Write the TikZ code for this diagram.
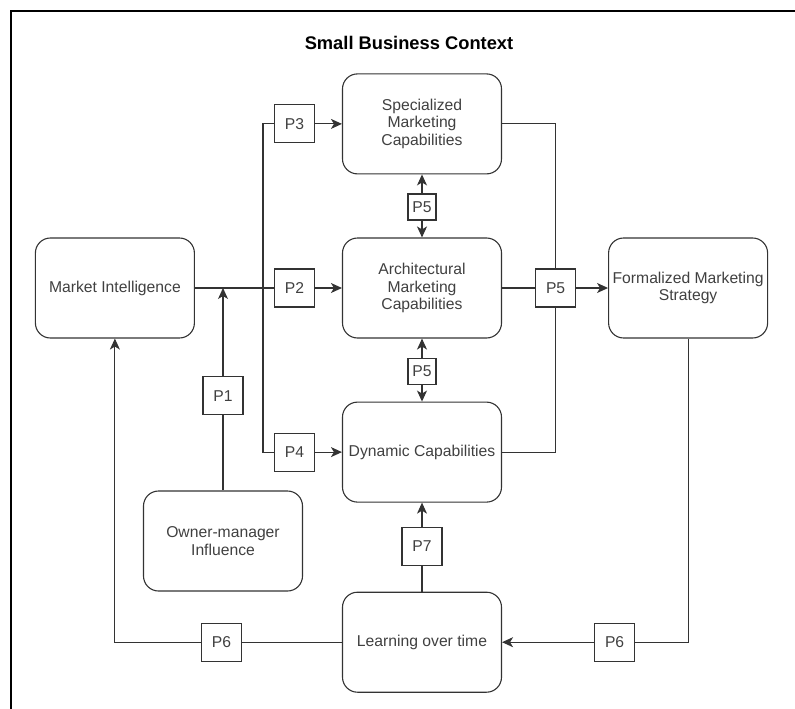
\documentclass[tikz,border=0pt]{standalone}
\usepackage{fontspec}
\setmainfont{Liberation Sans}
\usetikzlibrary{arrows.meta,positioning}
\definecolor{boxline}{rgb}{0.20,0.20,0.20}
\definecolor{labeltext}{rgb}{0.25,0.25,0.25}

\begin{document}
\begin{tikzpicture}[
  x=1pt,y=-1pt,
  every node/.style={font=\fontsize{15.7}{17.6}\selectfont,align=center,text=labeltext},
  arrow/.style={-{Stealth[length=11pt,width=10pt,inset=3pt]},line width=1.1pt,draw=boxline},
  link/.style={line width=1.1pt,draw=boxline},
  blk/.style={rectangle,draw=boxline,line width=1.1pt,rounded corners=15pt,
              minimum width=159pt,minimum height=100pt,inner sep=2pt},
  pbox/.style={rectangle,draw=boxline,line width=1.1pt,
               minimum width=40pt,minimum height=38pt,inner sep=1pt},
  psmall/.style={pbox,minimum width=28pt,minimum height=26pt}
]
\useasboundingbox (0,0) rectangle (795,709);

% context frame
\draw[line width=1.1pt,draw=black] (11,709) |- (795,11);
\node[font=\fontsize{18.3}{22}\selectfont\bfseries,text=black] (title) at (409,43) {Small Business Context};

\node[blk] (arch) at (422,288) {Architectural\\Marketing\\Capabilities};
\node[blk,above=63pt of arch] (spec)   {Specialized\\Marketing\\Capabilities};
\node[blk,below=63pt of arch] (dyn)    {Dynamic Capabilities};
\node[blk,below=89pt of dyn]  (learn)  {Learning over time};
\node[blk,left=147pt of arch] (mi)     {Market Intelligence};
\node[blk,right=106pt of arch] (formal) {Formalized Marketing\\Strategy};
\node[blk] (owner) at (223,541) {Owner-manager\\Influence};

\node[pbox,left=27pt of spec]    (p3)  {P3};
\node[pbox,left=27pt of arch]    (p2)  {P2};
\node[pbox,left=27pt of dyn]     (p4)  {P4};
\node[psmall,below=19pt of spec] (p5a) {P5};
\node[psmall,below=19pt of arch] (p5b) {P5};
\node[pbox,right=33pt of arch]   (p5c) {P5};
\node[pbox,above=75pt of owner]  (p1)  {P1};
\node[pbox,above=26pt of learn]  (p7)  {P7};
\node[pbox,left=100pt of learn]  (p6a) {P6};
\node[pbox,right=92pt of learn]  (p6b) {P6};

\coordinate (mid)   at (p1 |- mi);
\coordinate (trunk) at (263,288);

\draw[link]  (mi) -- (p2);
\draw[arrow] (p2) -- (arch);
\draw[link]  (p3) -| (trunk) |- (p4);
\draw[arrow] (p3) -- (spec);
\draw[arrow] (p4) -- (dyn);
\draw[link]  (owner) -- (p1);
\draw[arrow] (p1) -- (mid);
\draw[arrow] (p5a) -- (spec);
\draw[arrow] (p5a) -- (arch);
\draw[arrow] (p5b) -- (arch);
\draw[arrow] (p5b) -- (dyn);
\draw[link]  (spec) -| (p5c);
\draw[link]  (dyn) -| (p5c);
\draw[link]  (arch) -- (p5c);
\draw[arrow] (p5c) -- (formal);
\draw[link]  (learn) -- (p7);
\draw[arrow] (p7) -- (dyn);
\draw[link]  (formal) |- (p6b);
\draw[arrow] (p6b) -- (learn);
\draw[link]  (learn) -- (p6a);
\draw[arrow] (p6a) -| (mi);

\end{tikzpicture}
\end{document}
